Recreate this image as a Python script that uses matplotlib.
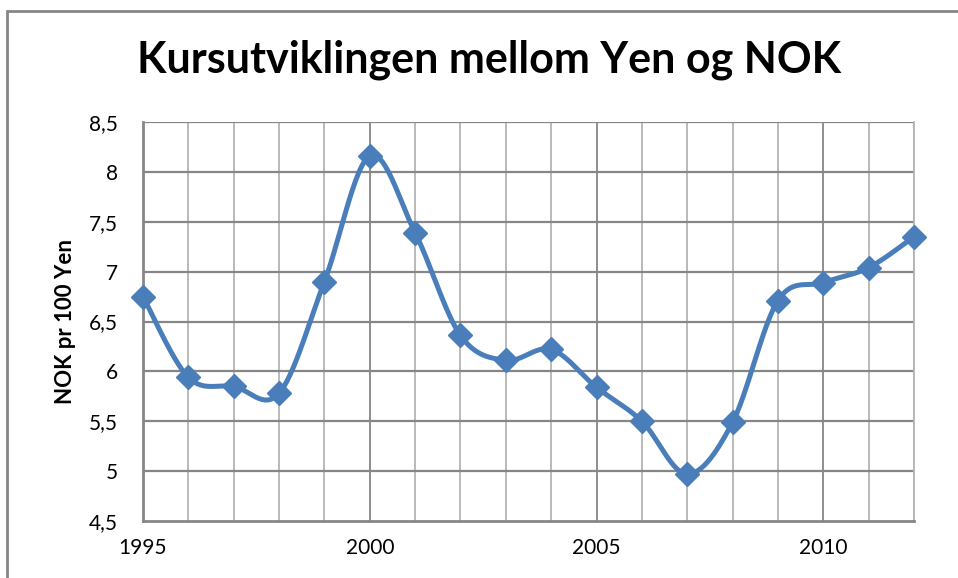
import numpy as np
import matplotlib
matplotlib.use('Agg')
import matplotlib.pyplot as plt
from matplotlib.patches import Rectangle
from matplotlib.ticker import MultipleLocator, FuncFormatter

years = [1995, 1996, 1997, 1998, 1999, 2000, 2001, 2002, 2003,
         2004, 2005, 2006, 2007, 2008, 2009, 2010, 2011, 2012]
nok_per_100_yen = [6.75, 5.94, 5.85, 5.78, 6.90, 8.16, 7.39, 6.36, 6.11,
                   6.22, 5.84, 5.50, 4.97, 5.49, 6.71, 6.89, 7.04, 7.35]
title = 'Kursutviklingen mellom Yen og NOK'
ylabel = 'NOK pr 100 Yen'

FONT = ['Lato', 'DejaVu Sans']
BLUE = '#4a7ebb'
DARK = '#868686'
LIGHT = '#b4b4b4'


def smooth(x, y, steps=30):
    # bezier smoothing like the spreadsheet "smoothed line" option
    x = np.asarray(x, float)
    y = np.asarray(y, float)
    px = np.concatenate([[x[0]], x, [x[-1]]])
    py = np.concatenate([[y[0]], y, [y[-1]]])
    t = np.linspace(0, 1, steps)[:, None]
    xs, ys = [], []
    for i in range(len(x) - 1):
        p0 = np.array([px[i + 1], py[i + 1]])
        p3 = np.array([px[i + 2], py[i + 2]])
        c1 = p0 + (np.array([px[i + 2], py[i + 2]]) - np.array([px[i], py[i]])) / 6
        c2 = p3 - (np.array([px[i + 3], py[i + 3]]) - np.array([px[i + 1], py[i + 1]])) / 6
        b = ((1 - t) ** 3) * p0 + 3 * ((1 - t) ** 2) * t * c1 + 3 * (1 - t) * t ** 2 * c2 + t ** 3 * p3
        xs.append(b[:, 0])
        ys.append(b[:, 1])
    return np.concatenate(xs), np.concatenate(ys)


fig = plt.figure(figsize=(9.58, 5.78), dpi=100)
ax = fig.add_axes([143 / 958, 57 / 578, 771 / 958, 399 / 578])

# outer chart border
fig.patches.append(Rectangle((7 / 958, -0.05), 1.2, 1 - 11 / 578 + 0.05,
                             transform=fig.transFigure, fill=False,
                             edgecolor=DARK, linewidth=2))

ax.set_xlim(1995, 2012)
ax.set_ylim(4.5, 8.5)

# grid
for yr in years:
    ax.axvline(yr, color=DARK if yr % 5 == 0 else LIGHT, linewidth=1.3, zorder=1)
for v in np.arange(5.0, 8.51, 0.5):
    ax.axhline(v, color=DARK, linewidth=1.6, zorder=1)

for side in ['left', 'bottom']:
    ax.spines[side].set_color(DARK)
    ax.spines[side].set_linewidth(2)
ax.spines['right'].set_color(LIGHT)
ax.spines['right'].set_linewidth(1.3)
ax.spines['top'].set_visible(False)

sx, sy = smooth(years, nok_per_100_yen)
ax.plot(sx, sy, color=BLUE, linewidth=3.6, solid_capstyle='round', zorder=3, clip_on=False)
ax.plot(years, nok_per_100_yen, linestyle='None', marker='D', markersize=12.5,
        color=BLUE, zorder=4, clip_on=False)

ax.xaxis.set_major_locator(MultipleLocator(5))
ax.yaxis.set_major_locator(MultipleLocator(0.5))
ax.yaxis.set_major_formatter(FuncFormatter(lambda v, p: ('%g' % v).replace('.', ',')))
ax.tick_params(length=0, labelsize=15, colors='black')
ax.tick_params(axis='y', pad=18)
ax.tick_params(axis='x', pad=12)
for lab in ax.get_xticklabels() + ax.get_yticklabels():
    lab.set_family(FONT)

ax.set_ylabel(ylabel, fontsize=16, fontweight='bold', family=FONT, labelpad=9)
fig.text(0.511, 0.896, title, fontsize=31, fontweight='bold', family=FONT,
         ha='center', va='center')

fig.savefig('out.png', dpi=100)
